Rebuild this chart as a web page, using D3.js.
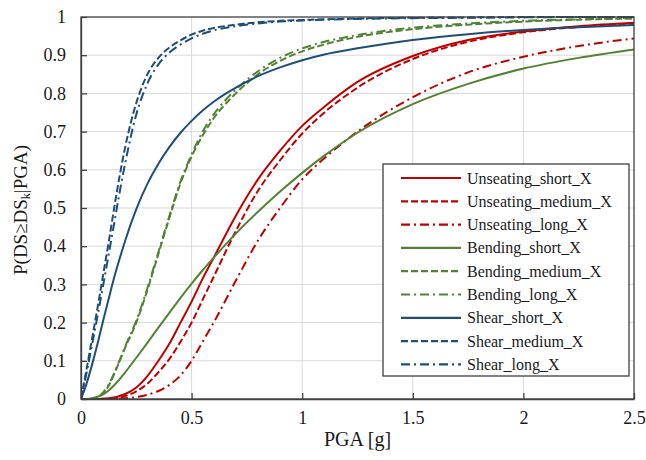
<!DOCTYPE html>
<html>
<head>
<meta charset="utf-8">
<script src="https://cdn.jsdelivr.net/npm/d3@7"></script>
<style>
  html, body { margin: 0; padding: 0; background: #fff; }
  svg { display: block; }
  text { font-family: "Liberation Serif", "DejaVu Serif", serif; fill: #1a1a1a; }
</style>
</head>
<body>
<svg id="chart" width="646" height="460"></svg>
<script>
// ---------- data ----------
const pga = [0, 0.025, 0.05, 0.075, 0.1, 0.125, 0.15, 0.175, 0.2, 0.25, 0.3, 0.35, 0.4, 0.45, 0.5, 0.55, 0.6, 0.7, 0.8, 0.9, 1.0, 1.1, 1.25, 1.5, 1.75, 2.0, 2.25, 2.5];

const unseatingShort  = [0, 0, 0, 0, 0.001, 0.002, 0.004, 0.008, 0.013, 0.03, 0.06, 0.1, 0.145, 0.2, 0.255, 0.315, 0.37, 0.48, 0.575, 0.65, 0.715, 0.765, 0.83, 0.898, 0.94, 0.962, 0.976, 0.985];
const unseatingMedium = [0, 0, 0, 0, 0, 0.001, 0.002, 0.004, 0.008, 0.02, 0.04, 0.07, 0.105, 0.15, 0.2, 0.26, 0.32, 0.44, 0.545, 0.625, 0.695, 0.75, 0.815, 0.89, 0.935, 0.96, 0.974, 0.983];
const unseatingLong   = [0, 0, 0, 0, 0, 0, 0, 0.001, 0.002, 0.005, 0.011, 0.021, 0.037, 0.062, 0.1, 0.15, 0.2, 0.31, 0.415, 0.5, 0.575, 0.63, 0.7, 0.79, 0.855, 0.896, 0.924, 0.944];
const bendingShort    = [0, 0, 0.002, 0.006, 0.012, 0.022, 0.036, 0.052, 0.07, 0.108, 0.147, 0.187, 0.226, 0.265, 0.302, 0.337, 0.37, 0.433, 0.49, 0.543, 0.592, 0.637, 0.697, 0.772, 0.825, 0.865, 0.893, 0.915];
const bendingMedium   = [0, 0, 0, 0.003, 0.015, 0.035, 0.065, 0.1, 0.135, 0.2, 0.285, 0.38, 0.475, 0.565, 0.635, 0.69, 0.735, 0.8, 0.85, 0.885, 0.91, 0.928, 0.948, 0.968, 0.98, 0.988, 0.993, 0.996];
const bendingLong     = [0, 0, 0, 0.004, 0.017, 0.038, 0.068, 0.102, 0.138, 0.205, 0.29, 0.385, 0.48, 0.57, 0.64, 0.7, 0.745, 0.81, 0.858, 0.893, 0.918, 0.935, 0.953, 0.972, 0.983, 0.99, 0.994, 0.997];
const shearShort      = [0, 0.04, 0.09, 0.145, 0.205, 0.262, 0.318, 0.368, 0.415, 0.497, 0.563, 0.616, 0.66, 0.697, 0.728, 0.755, 0.778, 0.815, 0.845, 0.868, 0.887, 0.902, 0.918, 0.94, 0.955, 0.966, 0.973, 0.979];
const shearMedium     = [0, 0.078, 0.158, 0.24, 0.325, 0.41, 0.5, 0.585, 0.66, 0.775, 0.85, 0.893, 0.92, 0.939, 0.954, 0.964, 0.971, 0.98, 0.986, 0.99, 0.992, 0.994, 0.996, 0.998, 0.999, 1, 1, 1];
const shearLong       = [0, 0.068, 0.142, 0.218, 0.297, 0.378, 0.46, 0.542, 0.618, 0.745, 0.826, 0.876, 0.907, 0.928, 0.944, 0.956, 0.965, 0.976, 0.983, 0.988, 0.991, 0.993, 0.995, 0.997, 0.998, 0.999, 1, 1];

const seriesNames = ["Unseating_short_X", "Unseating_medium_X", "Unseating_long_X",
                     "Bending_short_X", "Bending_medium_X", "Bending_long_X",
                     "Shear_short_X", "Shear_medium_X", "Shear_long_X"];
const seriesValues = [unseatingShort, unseatingMedium, unseatingLong,
                      bendingShort, bendingMedium, bendingLong,
                      shearShort, shearMedium, shearLong];

const xTicks = [0, 0.5, 1, 1.5, 2, 2.5];
const xTickLabels = ["0", "0.5", "1", "1.5", "2", "2.5"];
const yTicks = [0, 0.1, 0.2, 0.3, 0.4, 0.5, 0.6, 0.7, 0.8, 0.9, 1];
const yTickLabels = ["0", "0.1", "0.2", "0.3", "0.4", "0.5", "0.6", "0.7", "0.8", "0.9", "1"];

// ---------- styling ----------
const colors = { Unseating: "#c00000", Bending: "#548235", Shear: "#1f4e79" };
const dashes = { short: null, medium: "7,3", long: "9,4,2,4" };

const svg = d3.select("#chart");
const m = { left: 81, right: 634, top: 17, bottom: 399 };

const x = d3.scaleLinear().domain([0, 2.5]).range([m.left, m.right]);
const y = d3.scaleLinear().domain([0, 1]).range([m.bottom, m.top]);

// gridlines
const grid = svg.append("g");
grid.selectAll("line.gx").data(xTicks.slice(1, -1)).join("line")
  .attr("x1", d => x(d)).attr("x2", d => x(d))
  .attr("y1", m.top).attr("y2", m.bottom)
  .attr("stroke", "#d9d9d9").attr("stroke-width", 1);
grid.selectAll("line.gy").data(yTicks.slice(1, -1)).join("line")
  .attr("y1", d => y(d)).attr("y2", d => y(d))
  .attr("x1", m.left).attr("x2", m.right)
  .attr("stroke", "#d9d9d9").attr("stroke-width", 1);

// clip
svg.append("clipPath").attr("id", "clip").append("rect")
  .attr("x", m.left).attr("y", m.top - 2)
  .attr("width", m.right - m.left).attr("height", m.bottom - m.top + 2);

// curves
const line = d3.line()
  .x((d, i) => x(pga[i]))
  .y(d => y(d))
  .curve(d3.curveMonotoneX);

const curves = svg.append("g").attr("clip-path", "url(#clip)");
seriesNames.forEach((name, k) => {
  const [grp, len] = name.split("_");
  curves.append("path")
    .datum(seriesValues[k])
    .attr("d", line)
    .attr("fill", "none")
    .attr("stroke", colors[grp])
    .attr("stroke-width", 2)
    .attr("stroke-dasharray", dashes[len]);
});

// frame & axes
svg.append("rect")
  .attr("x", m.left).attr("y", m.top)
  .attr("width", m.right - m.left).attr("height", m.bottom - m.top)
  .attr("fill", "none").attr("stroke", "#404040").attr("stroke-width", 1.3);

const xAxis = d3.axisBottom(x).tickValues(xTicks).tickSizeInner(-6).tickSizeOuter(0)
  .tickFormat((d, i) => xTickLabels[i]).tickPadding(12);
const gx = svg.append("g").attr("transform", `translate(0,${m.bottom})`).call(xAxis);
gx.select(".domain").attr("stroke", "#404040").attr("stroke-width", 1.3);
gx.selectAll(".tick line").attr("stroke", "#404040").attr("stroke-width", 1.3);
gx.selectAll(".tick text").attr("font-size", 18).attr("fill", "#1a1a1a")
  .attr("font-family", "Liberation Serif, serif");

const yAxis = d3.axisLeft(y).tickValues(yTicks).tickSizeInner(-6).tickSizeOuter(0)
  .tickFormat((d, i) => yTickLabels[i]).tickPadding(15);
const gy = svg.append("g").attr("transform", `translate(${m.left},0)`).call(yAxis);
gy.select(".domain").attr("stroke", "#404040").attr("stroke-width", 1.3);
gy.selectAll(".tick line").attr("stroke", "#404040").attr("stroke-width", 1.3);
gy.selectAll(".tick text").attr("font-size", 18).attr("fill", "#1a1a1a")
  .attr("font-family", "Liberation Serif, serif");

// axis titles
svg.append("text")
  .attr("x", (m.left + m.right) / 2).attr("y", 446)
  .attr("text-anchor", "middle").attr("font-size", 20)
  .text("PGA [g]");

const yt = svg.append("text")
  .attr("transform", `translate(27,${(m.top + m.bottom) / 2 + 2}) rotate(-90)`)
  .attr("text-anchor", "middle").attr("font-size", 19);
yt.append("tspan").text("P(DS≥DS");
yt.append("tspan").attr("font-size", 12).attr("baseline-shift", "-25%").text("k");
yt.append("tspan").text("|PGA)");

// legend
const lg = svg.append("g");
lg.append("rect")
  .attr("x", 383).attr("y", 164).attr("width", 246).attr("height", 212)
  .attr("fill", "#fff").attr("stroke", "#404040").attr("stroke-width", 1.3);
seriesNames.forEach((name, k) => {
  const [grp, len] = name.split("_");
  const cy = 178 + k * 23.3;
  lg.append("line")
    .attr("x1", 401).attr("x2", 461).attr("y1", cy).attr("y2", cy)
    .attr("stroke", colors[grp]).attr("stroke-width", 2.2)
    .attr("stroke-dasharray", dashes[len]);
  lg.append("text")
    .attr("x", 467).attr("y", cy + 5.5)
    .attr("font-size", 16)
    .text(name);
});
</script>
</body>
</html>
